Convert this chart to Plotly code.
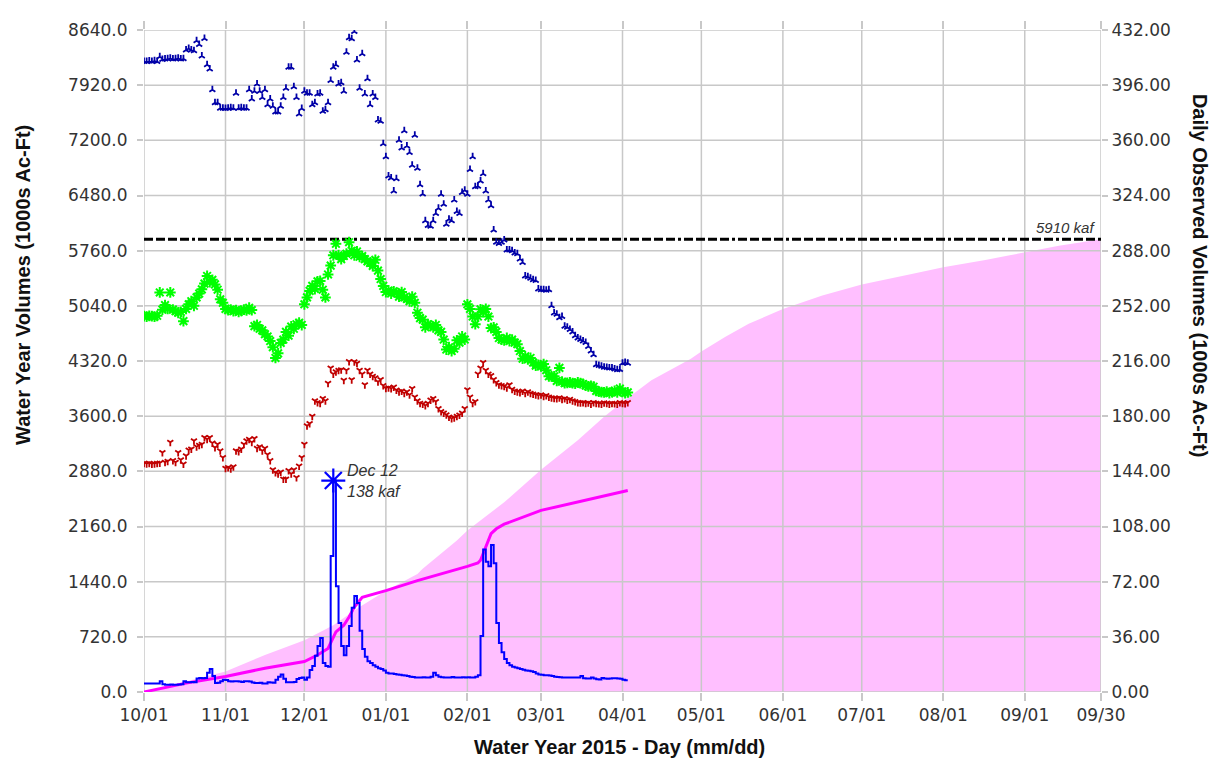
import pandas as pd
import plotly.graph_objects as go

WY_START = "2014-10-01"
WY_END = "2015-09-30"

# ---- daily forecast volumes (left axis, 1000s Ac-Ft), Oct 1 .. Apr 3 ----
blue_fcst = [
    8230, 8230, 8235, 8230, 8240, 8230, 8290, 8255, 8260, 8265,
    8270, 8260, 8265, 8270, 8260, 8265, 8380, 8400, 8380, 8370,
    8500, 8450, 8300, 8530, 8185, 8130, 7860, 7690, 7690, 7620,
    7620, 7615, 7620, 7625, 7620, 7815, 7620, 7625, 7620, 7620,
    7860, 7740, 7840, 7935, 7840, 7760, 7860, 7665, 7740, 7645,
    7570, 7570, 7645, 7760, 7880, 8155, 8155, 7900, 7760, 7545,
    7615, 7840, 7815, 7815, 7665, 7690, 7805, 7815, 7580, 7600,
    7690, 7980, 8155, 8185, 7935, 7950, 7840, 8350, 8540, 8525,
    8620, 8250, 7880, 8330, 7805, 8005, 7665, 7805, 7760, 7465,
    7450, 7155, 6985, 6735, 6710, 6540, 6700, 7200, 7100, 7325,
    7125, 7040, 6875, 7265, 6835, 6620, 6500, 6150, 6090, 6080,
    6150, 6245, 6315, 6495, 6365, 6105, 6170, 6150, 6420, 6270,
    6245, 6520, 6550, 6495, 6820, 6985, 6595, 6600, 6670, 6765,
    6540, 6420, 6345, 6030, 5870, 5855, 5870, 5900, 5770, 5770,
    5760, 5730, 5720, 5650, 5605, 5430, 5420, 5400, 5380, 5370,
    5260, 5250, 5250, 5245, 5250, 5040, 4945, 4930, 4885, 4900,
    4775, 4760, 4730, 4700, 4650, 4620, 4600, 4580, 4560, 4510,
    4450, 4400, 4270, 4260, 4250, 4240, 4235, 4230, 4230, 4215,
    4205, 4210, 4290, 4300, 4290,
]
green_fcst = [
    4905, 4900, 4910, 4905, 4900, 4910, 5215, 4990, 5050, 5000,
    5215, 4990, 4970, 4950, 4960, 4840, 5000, 5060, 5100, 5040,
    5150, 5200, 5255, 5330, 5430, 5350, 5380, 5320, 5250, 5125,
    5080, 5000, 4985, 4990, 4970, 4985, 4960, 4975, 4990, 4980,
    5015, 4985, 4775, 4790, 4740, 4720, 4670, 4640, 4580, 4500,
    4360, 4420, 4555, 4600, 4700, 4650, 4770, 4740, 4800, 4820,
    4790, 5060, 5150, 5235, 5300, 5260, 5360, 5365, 5250, 5150,
    5450, 5565, 5700, 5850, 5700, 5650, 5690, 5720, 5870, 5760,
    5700, 5750, 5680, 5690, 5650, 5620, 5600, 5560, 5640, 5500,
    5390, 5300, 5220, 5240, 5200, 5230, 5210, 5160, 5220, 5150,
    5130, 5100, 5160, 5080, 4950, 4880, 4860, 4760, 4800, 4780,
    4760, 4790, 4720, 4700, 4600, 4470, 4500, 4450, 4480, 4590,
    4560, 4640, 4600, 5060, 5000, 4900, 4800, 4900, 4995, 4960,
    5000, 4900, 4750, 4760, 4700, 4620, 4600, 4590, 4620, 4580,
    4600, 4560, 4540, 4450, 4350, 4380, 4340, 4360, 4300, 4260,
    4270, 4250, 4280, 4200, 4120, 4120, 4120, 4060, 4230, 4050,
    4030, 4035, 4040, 4030, 4025, 4040, 4030, 4020, 4000, 3990,
    3995, 3985, 3930, 3920, 3915, 3910, 3920, 3900, 3915, 3930,
    3910, 3960, 3920, 3900, 3910,
]
red_fcst = [
    2985, 2980, 2985, 2975, 2980, 2985, 2990, 3125, 3000, 3010,
    3260, 3020, 3000, 3125, 3030, 2975, 3085, 3160, 3170, 3280,
    3200, 3220, 3235, 3320, 3300, 3320, 3250, 3190, 3235, 3150,
    3060, 2920, 2930, 2915, 2940, 3150, 3140, 3170, 3235, 3280,
    3300, 3260, 3310, 3180, 3200, 3150, 3180, 3100, 3020, 2900,
    2865, 2850, 2870, 2780, 2780, 2890, 2850, 2900, 2800, 2950,
    3060, 3235, 3475, 3505, 3600, 3800, 3780, 3770, 3830, 3800,
    4030, 4230, 4150, 4180, 4200, 4205, 4070, 4200, 4315, 4075,
    4310, 4290, 4200, 4150, 4010, 4200, 4150, 4120, 4100, 4050,
    4080, 4000, 3965, 3970, 3960, 3980, 3940, 3920, 3930, 3900,
    3920, 3880, 3960, 3850, 3800, 3770, 3760, 3740, 3770, 3810,
    3830, 3790, 3700, 3660, 3640, 3620, 3590, 3570, 3580, 3600,
    3615, 3640, 3700, 3945, 3850, 3770, 3790, 4150, 4230, 4300,
    4200, 4150, 4130, 4080, 4040, 4010, 4000, 3990, 3970, 4010,
    3950, 3930, 3920, 3910, 3930, 3900, 3920, 3900, 3890, 3880,
    3870, 3880, 3860, 3870, 3850, 3840, 3835, 3830, 3840, 3820,
    3830, 3810, 3820, 3800, 3790, 3780, 3775, 3780, 3770, 3775,
    3760, 3780, 3770, 3765, 3760, 3775, 3770, 3760, 3770, 3765,
    3760, 3780, 3770, 3765, 3780,
]

# ---- daily observed volume (right axis, 1000s Ac-Ft) ----
daily_obs = [
    5.5, 5.5, 5.5, 5.5, 5.6, 5.5, 7.0, 5.0, 4.8, 4.8,
    4.9, 4.8, 4.8, 4.9, 5.0, 7.0, 6.4, 6.4, 6.5, 6.4,
    8.8, 9.2, 9.0, 9.2, 12.5, 15.0, 10.5, 5.9, 6.0, 7.0,
    8.0, 7.8, 7.0, 6.8, 7.0, 7.0, 6.8, 6.6, 7.0, 7.0,
    6.8, 6.2, 5.8, 5.8, 6.0, 5.6, 5.6, 6.4, 6.2, 6.0,
    8.0, 10.0, 11.4, 8.6, 6.4, 6.4, 6.4, 6.6, 8.5, 9.2,
    9.5, 8.0, 9.5, 14.4, 17.0, 23.6, 30.0, 35.3, 19.0, 17.0,
    16.5, 88.7, 138.0, 69.0, 45.0, 30.0, 24.0, 30.0, 43.0, 55.0,
    62.7, 58.0, 40.0, 28.0, 23.0, 20.0, 19.0, 17.5, 16.5, 15.5,
    15.0, 14.0, 12.5, 12.0, 12.0, 11.7, 11.5, 11.2, 11.0, 10.8,
    10.5, 10.0, 9.8, 9.5, 9.5, 9.4, 9.6, 9.5, 9.4, 10.0,
    12.5, 11.0, 10.0, 9.6, 9.5, 9.4, 9.5, 9.8, 9.5, 9.5,
    9.4, 9.6, 9.5, 9.6, 9.4, 9.5, 10.0, 11.0, 36.6, 93.0,
    85.0, 82.0, 96.0, 84.0, 45.0, 32.0, 26.0, 21.5, 19.0, 17.5,
    16.5, 16.0, 15.5, 15.0, 14.5, 14.0, 13.8, 13.5, 13.0, 12.0,
    11.5, 11.2, 11.0, 11.0, 10.8, 10.5, 10.0, 9.8, 9.6, 9.5,
    9.5, 9.5, 9.4, 9.5, 9.5, 9.4, 10.4, 9.0, 8.8, 8.8,
    9.5, 8.8, 8.4, 8.2, 9.2, 8.8, 8.6, 8.8, 9.0, 8.9,
    8.8, 8.6, 8.0, 7.7, 7.7,
]

# ---- cumulative observed (left axis): day of water year, value ----
cum_days = [0, 16, 31, 46, 61, 66, 70, 72, 73, 76, 78, 80, 83, 92, 104,
            123, 127, 128, 129, 130, 131, 132, 134, 137, 151, 182, 184]
cum_vals = [0, 116, 203, 310, 397, 483, 569, 700, 784, 871, 978, 1108, 1237,
            1323, 1453, 1640, 1683, 1720, 1805, 1900, 2000, 2066, 2130, 2190,
            2370, 2620, 2630]

# ---- average accumulated volume (pink area, left axis) ----
avg_days = [0, 16, 31, 46, 61, 72, 82, 92, 104, 106, 119, 123, 137, 151, 165,
            175, 182, 193, 208, 212, 221, 230, 243, 258, 273, 292, 304, 320,
            335, 348, 364]
avg_vals = [0, 138, 267, 483, 677, 871, 1108, 1323, 1539, 1608, 1977, 2109,
            2476, 2900, 3287, 3591, 3786, 4068, 4350, 4445, 4632, 4805, 5000,
            5174, 5317, 5456, 5543, 5638, 5738, 5825, 5910]

threshold = 5910
peak_date = "2014-12-12"
peak_val = 138

left_ticks = [0, 720, 1440, 2160, 2880, 3600, 4320, 5040, 5760, 6480, 7200, 7920, 8640]
right_ticks = [0, 36, 72, 108, 144, 180, 216, 252, 288, 324, 360, 396, 432]
xtick_dates = ["2014-10-01", "2014-11-01", "2014-12-01", "2015-01-01",
               "2015-02-01", "2015-03-01", "2015-04-01", "2015-05-01",
               "2015-06-01", "2015-07-01", "2015-08-01", "2015-09-01",
               "2015-09-30"]

# ---------------------------------------------------------------
start = pd.Timestamp(WY_START)
days = pd.date_range(WY_START, periods=len(blue_fcst), freq="D")
cum_x = [start + pd.Timedelta(days=d) for d in cum_days]
avg_x = [start + pd.Timedelta(days=d) for d in avg_days]

GRID = "#C8C8C8"
FONT = "Liberation Sans"
TICKFONT = "DejaVu Sans"

fig = go.Figure()

# pink average accumulation area
fig.add_trace(go.Scatter(x=avg_x, y=avg_vals, mode="lines", fill="tozeroy",
                         fillcolor="#FFBFFF", line=dict(width=0, color="#FFBFFF"),
                         hoverinfo="skip"))

# grid lines drawn above the area
gx, gy = [], []
for d in xtick_dates:
    gx += [d, d, None]
    gy += [left_ticks[0], left_ticks[-1], None]
for v in left_ticks:
    gx += [WY_START, WY_END, None]
    gy += [v, v, None]
fig.add_trace(go.Scatter(x=gx, y=gy, mode="lines",
                         line=dict(color=GRID, width=1.5), hoverinfo="skip"))

# threshold line
fig.add_trace(go.Scatter(x=[WY_START, WY_END], y=[threshold, threshold],
                         mode="lines",
                         line=dict(color="black", width=3,
                                   dash="9px,3px,9px,3px,9px,3px,9px,3px,3px,3px")))

# forecast scatters
fig.add_trace(go.Scatter(x=days, y=red_fcst, mode="markers",
                         marker=dict(symbol="y-down", size=5, color="#C00000",
                                     line=dict(color="#C00000", width=1.8))))
fig.add_trace(go.Scatter(x=days, y=green_fcst, mode="markers",
                         marker=dict(symbol="asterisk-open", size=9, color="#00FF00",
                                     line=dict(color="#00FF00", width=2))))
fig.add_trace(go.Scatter(x=days, y=blue_fcst, mode="markers",
                         marker=dict(symbol="y-up", size=5, color="#0000A8",
                                     line=dict(color="#0000A8", width=1.8))))

# cumulative observed
fig.add_trace(go.Scatter(x=cum_x, y=cum_vals, mode="lines",
                         line=dict(color="#FF00FF", width=3)))

# daily observed (right axis)
fig.add_trace(go.Scatter(x=days, y=daily_obs, mode="lines", yaxis="y2",
                         line=dict(color="#0000FF", width=2, shape="hv")))
fig.add_trace(go.Scatter(x=[peak_date], y=[peak_val], mode="markers", yaxis="y2",
                         marker=dict(symbol="asterisk-open", size=20, color="#0000FF",
                                     line=dict(color="#0000FF", width=2.2)),
                         cliponaxis=False))

tickfont = dict(family=TICKFONT, size=17, color="#333333")
fig.update_layout(
    width=1212, height=751,
    margin=dict(l=136, r=119, t=19, b=67),
    paper_bgcolor="white", plot_bgcolor="white",
    showlegend=False,
    xaxis=dict(type="date", range=[WY_START, WY_END],
               tickvals=xtick_dates, tickformat="%m/%d",
               showgrid=False, zeroline=False, showline=False,
               ticks="outside", ticklen=8, tickcolor=GRID, tickwidth=1.5,
               mirror="ticks", tickfont=tickfont),
    yaxis=dict(range=[0, 8640], tickvals=left_ticks,
               ticktext=[f"{v:.1f}" for v in left_ticks],
               showgrid=False, zeroline=False, showline=False,
               ticks="outside", ticklen=6, tickcolor=GRID, tickwidth=1.5,
               ticklabelstandoff=6, tickfont=tickfont),
    yaxis2=dict(range=[0, 432], tickvals=right_ticks,
                ticktext=[f"{v:.2f}" for v in right_ticks],
                overlaying="y", side="right",
                showgrid=False, zeroline=False, showline=False,
                ticks="outside", ticklen=6, tickcolor=GRID, tickwidth=1.5,
                tickfont=tickfont),
    annotations=[
        dict(text="<b>Water Year Volumes (1000s Ac-Ft)</b>", xref="paper", yref="paper",
             x=-0.1264, y=0.615, xanchor="center", yanchor="middle", textangle=-90,
             showarrow=False, font=dict(family=FONT, size=20, color="#111111")),
        dict(text="<b>Daily Observed Volumes (1000s Ac-Ft)</b>", xref="paper", yref="paper",
             x=1.1034, y=0.6286, xanchor="center", yanchor="middle", textangle=90,
             showarrow=False, font=dict(family=FONT, size=20, color="#111111")),
        dict(text="<b>Water Year 2015 - Day (mm/dd)</b>", xref="paper", yref="paper",
             x=0.497, y=-0.0827, xanchor="center", yanchor="middle",
             showarrow=False, font=dict(family=FONT, size=20, color="#111111")),
        dict(text=f"<i>{threshold} kaf</i>", xref="x", yref="y",
             x=WY_END, y=threshold, xanchor="right", yanchor="bottom",
             xshift=-4, yshift=1, showarrow=False,
             font=dict(family=FONT, size=15, color="#333333")),
        dict(text=f"<i>Dec 12<br>{peak_val} kaf</i>", xref="x", yref="y2",
             x=peak_date, y=peak_val, xanchor="left", yanchor="middle",
             xshift=12, align="left", showarrow=False,
             font=dict(family=FONT, size=16, color="#333333")),
    ],
)

fig.write_html("out.html")
